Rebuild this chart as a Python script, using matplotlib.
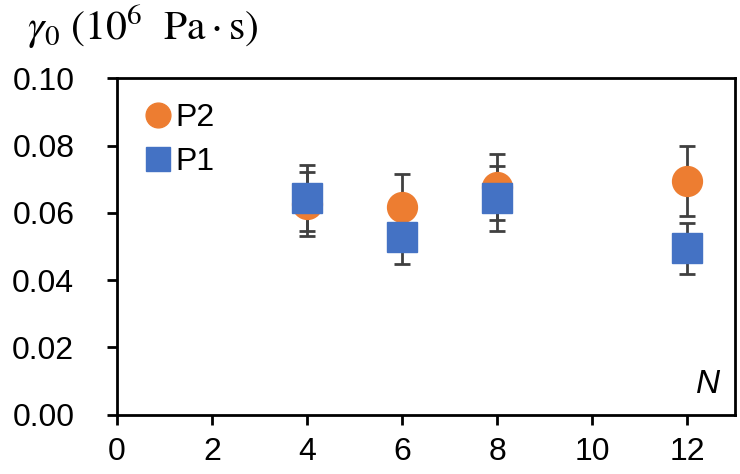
import numpy as np
import matplotlib
matplotlib.use("Agg")
import matplotlib.pyplot as plt
from matplotlib.ticker import FormatStrFormatter

# data
N = [4, 6, 8, 12]
p2 = [0.0626, 0.0616, 0.0677, 0.0695]
p2_err = [0.0095, 0.0098, 0.0099, 0.0104]
p1 = [0.0643, 0.0528, 0.0643, 0.0494]
p1_err = [0.0098, 0.0079, 0.0097, 0.0075]

ORANGE = "#ED7D31"
BLUE = "#4472C4"
ERR = "#404040"

plt.rcParams["font.family"] = ["Liberation Sans", "DejaVu Sans"]
plt.rcParams["mathtext.fontset"] = "stix"

fig = plt.figure(figsize=(7.4, 4.74), dpi=100)
ax = fig.add_axes([0.1577, 0.1255, 0.8355, 0.7093])

ekw = dict(fmt="none", ecolor=ERR, elinewidth=2.0, capsize=6, capthick=2.0, zorder=1)
ax.errorbar(N, p2, yerr=p2_err, **ekw)
ax.errorbar(N, p1, yerr=p1_err, **ekw)
ax.plot(N, p2, "o", ms=21.5, color=ORANGE, mec=ORANGE, ls="none", label="P2", zorder=2)
ax.plot(N, p1, "s", ms=21, color=BLUE, mec=BLUE, ls="none", label="P1", zorder=3)

ax.set_xlim(0, 13)
ax.set_ylim(0, 0.10)
ax.set_xticks(range(0, 13, 2))
ax.set_yticks(np.arange(0, 0.101, 0.02))
ax.yaxis.set_major_formatter(FormatStrFormatter("%.2f"))
ax.tick_params(direction="out", length=7.5, width=2, labelsize=23, colors="black")
ax.tick_params(axis="x", pad=9)
ax.tick_params(axis="y", pad=23)
for s in ax.spines.values():
    s.set_linewidth(2)

ax.legend(loc="upper left", bbox_to_anchor=(0.02, 0.965), frameon=False, fontsize=23,
          handletextpad=0.05, labelspacing=0.45, handlelength=1.0, borderaxespad=0.0,
          markerscale=0.83)

ax.text(0.976, 0.043, "N", transform=ax.transAxes, ha="right", va="bottom",
        fontsize=24, style="italic")
fig.text(0.036, 0.995, r"$\gamma_0\ (10^6\ \ \mathrm{Pa\cdot s})$", ha="left", va="top",
         fontsize=30)

fig.savefig("out.png", dpi=100)
